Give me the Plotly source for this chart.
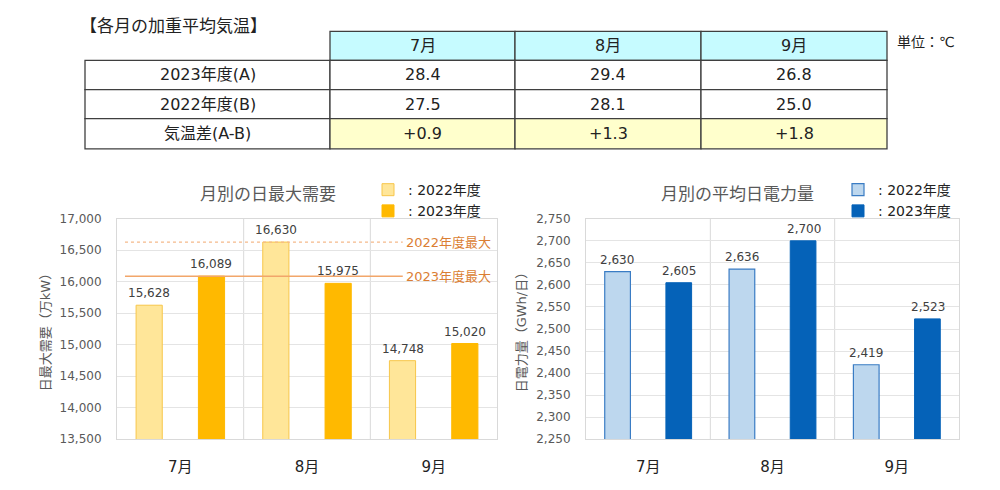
import plotly.graph_objects as go

# ---------------- data ----------------
months = ["7月", "8月", "9月"]
table_title = "【各月の加重平均気温】"
table_unit = "単位：℃"
table_rows = ["2023年度(A)", "2022年度(B)", "気温差(A-B)"]
temp_2023 = [28.4, 29.4, 26.8]
temp_2022 = [27.5, 28.1, 25.0]
temp_diff = ["+0.9", "+1.3", "+1.8"]

peak_2022 = [15628, 16630, 14748]
peak_2023 = [16089, 15975, 15020]
energy_2022 = [2630, 2636, 2419]
energy_2023 = [2605, 2700, 2523]

series_names = [": 2022年度", ": 2023年度"]
max_labels = ["2022年度最大", "2023年度最大"]
chart_titles = ["月別の日最大需要", "月別の平均日電力量"]
y_titles = ["日最大需要（万kW）", "日電力量（GWh/日）"]

FONT = "DejaVu Sans, Noto Sans CJK JP"
W, H = 1000, 490

fig = go.Figure()

# ---------------- table (layout in pixel positions) ----------------
col_edges = [85, 330, 515, 701, 887]
row_edges = [25, 55, 85, 115, 146]
TXT = "#222222"
BORDER = "#3F3F3F"


def px(x):
    return x / W


def py(y):
    return 1 - y / H


# header cells
for j, m in enumerate(months):
    x0, x1 = col_edges[j + 1], col_edges[j + 2]
    y0, y1 = row_edges[0], row_edges[1]
    fig.add_shape(type="rect", xref="paper", yref="paper", x0=px(x0), x1=px(x1),
                  y0=py(y1), y1=py(y0), fillcolor="#C6FBFF",
                  line=dict(color=BORDER, width=1.3), layer="above")
    fig.add_annotation(xref="paper", yref="paper", x=px((x0 + x1) / 2), y=py((y0 + y1) / 2),
                       text=m, showarrow=False, xanchor="center", yanchor="middle",
                       font=dict(family=FONT, size=16, color=TXT))
# body cells
for r in range(3):
    y0, y1 = row_edges[r + 1], row_edges[r + 2]
    for c in range(4):
        x0, x1 = col_edges[c], col_edges[c + 1]
        if c == 0:
            txt = table_rows[r]
        elif r == 0:
            txt = f"{temp_2023[c - 1]:.1f}"
        elif r == 1:
            txt = f"{temp_2022[c - 1]:.1f}"
        else:
            txt = temp_diff[c - 1]
        fill = "#FFFFCC" if (r == 2 and c > 0) else "white"
        fig.add_shape(type="rect", xref="paper", yref="paper", x0=px(x0), x1=px(x1),
                      y0=py(y1), y1=py(y0), fillcolor=fill,
                      line=dict(color=BORDER, width=1.3), layer="above")
        fig.add_annotation(xref="paper", yref="paper", x=px((x0 + x1) / 2),
                           y=py((y0 + y1) / 2), text=txt, showarrow=False,
                           xanchor="center", yanchor="middle",
                           font=dict(family=FONT, size=16, color=TXT))

fig.add_annotation(xref="paper", yref="paper", x=px(78), y=py(20),
                   text=table_title, showarrow=False, xanchor="left", yanchor="middle",
                   font=dict(family=FONT, size=17, color=TXT))
fig.add_annotation(xref="paper", yref="paper", x=px(895), y=py(36),
                   text=table_unit, showarrow=False, xanchor="left", yanchor="middle",
                   font=dict(family=FONT, size=14, color=TXT))

# ---------------- bars ----------------
fig.add_trace(go.Bar(x=months, y=peak_2022, name=series_names[0],
                     marker=dict(color="#FFE699", line=dict(color="#F7C64A", width=1)),
                     xaxis="x", yaxis="y", legend="legend", hoverinfo="skip"))
fig.add_trace(go.Bar(x=months, y=peak_2023, name=series_names[1],
                     marker=dict(color="#FFB900", line=dict(color="#FFB900", width=1)),
                     xaxis="x", yaxis="y", legend="legend", hoverinfo="skip"))
fig.add_trace(go.Bar(x=months, y=energy_2022, name=series_names[0],
                     marker=dict(color="#BDD7EE", line=dict(color="#3A7CC4", width=1.2)),
                     xaxis="x2", yaxis="y2", legend="legend2", hoverinfo="skip"))
fig.add_trace(go.Bar(x=months, y=energy_2023, name=series_names[1],
                     marker=dict(color="#0562B8", line=dict(color="#0562B8", width=1)),
                     xaxis="x2", yaxis="y2", legend="legend2", hoverinfo="skip"))

# value labels above bars (bar centre offset of a grouped bar = +-31 px)
for (xa, ya), s22, s23 in ((("x", "y"), peak_2022, peak_2023),
                           (("x2", "y2"), energy_2022, energy_2023)):
    for shift, series in ((-31, s22), (31, s23)):
        for m, v in zip(months, series):
            fig.add_annotation(xref=xa, yref=ya, x=m, y=v, text=f"{v:,}",
                               showarrow=False, xanchor="center", yanchor="bottom",
                               xshift=shift, yshift=3,
                               font=dict(family=FONT, size=12, color="#404040"))

ydom = [1 - 445 / H, 1 - 218 / H]
axis_font = dict(family=FONT, size=12, color="#595959")
xaxis_common = dict(type="category", showgrid=False, showline=True, mirror=True,
                    linecolor="#D9D9D9", ticks="outside", ticklen=14,
                    tickcolor="rgba(0,0,0,0)",
                    tickfont=dict(family=FONT, size=15, color="#222222"),
                    range=[-0.5, 2.5], fixedrange=True)
yaxis_common = dict(showgrid=True, gridcolor="#E4E4E4", showline=True, mirror=True,
                    linecolor="#D9D9D9", ticks="outside", ticklen=12,
                    tickcolor="rgba(0,0,0,0)", tickfont=axis_font,
                    tickformat=",d", zeroline=False, domain=ydom, fixedrange=True)
legend_common = dict(xanchor="left", yanchor="top",
                     font=dict(family=FONT, size=14, color="#222222"),
                     bgcolor="rgba(0,0,0,0)", tracegroupgap=0, itemclick=False)

fig.update_layout(
    width=W, height=H,
    margin=dict(l=0, r=0, t=0, b=0),
    paper_bgcolor="white", plot_bgcolor="white",
    barmode="group", bargap=0.016, bargroupgap=0.58,
    font=dict(family=FONT, color="#333333"),
    hovermode=False,
    xaxis=dict(domain=[117 / W, 497 / W], anchor="y", **xaxis_common),
    yaxis=dict(anchor="x", range=[13500, 17000], dtick=500,
               title=dict(text=y_titles[0], standoff=6,
                          font=dict(family=FONT, size=13, color="#595959")),
               **yaxis_common),
    xaxis2=dict(domain=[586 / W, 959 / W], anchor="y2", **xaxis_common),
    yaxis2=dict(anchor="x2", range=[2250, 2750], dtick=50,
                title=dict(text=y_titles[1], standoff=6,
                           font=dict(family=FONT, size=13, color="#595959")),
                **yaxis_common),
    legend=dict(x=0.368, y=py(172), **legend_common),
    legend2=dict(x=0.838, y=py(172), **legend_common),
    showlegend=True,
)

# category separators
for xa, ya in (("x", "y"), ("x2", "y2")):
    for xv in (0.5, 1.5):
        fig.add_shape(type="line", xref=xa, yref=f"{ya} domain", x0=xv, x1=xv,
                      y0=0, y1=1, line=dict(color="#D9D9D9", width=1), layer="below")

# max reference lines on left chart
max_vals = [max(peak_2022), max(peak_2023)]
line_styles = [dict(color="#F5B98A", width=1.2, dash="dot"),
               dict(color="#F2A66A", width=1.5)]
for val, lbl, st in zip(max_vals, max_labels, line_styles):
    fig.add_shape(type="line", xref="x domain", yref="y", x0=0.021, x1=0.752,
                  y0=val, y1=val, line=st)
    fig.add_annotation(xref="x domain", yref="y", x=0.755, y=val, text=lbl,
                       showarrow=False, xanchor="left", yanchor="middle",
                       font=dict(family=FONT, size=13, color="#DB7E33"))

# chart titles
for cx, t in zip((268, 737), chart_titles):
    fig.add_annotation(xref="paper", yref="paper", x=px(cx), y=py(192),
                       text=t, showarrow=False, xanchor="center", yanchor="middle",
                       font=dict(family=FONT, size=17, color="#595959"))

fig.write_html("out.html",
               config={"displayModeBar": False, "staticPlot": True},
               post_script="document.body.style.margin='0';document.body.style.overflow='hidden';")
